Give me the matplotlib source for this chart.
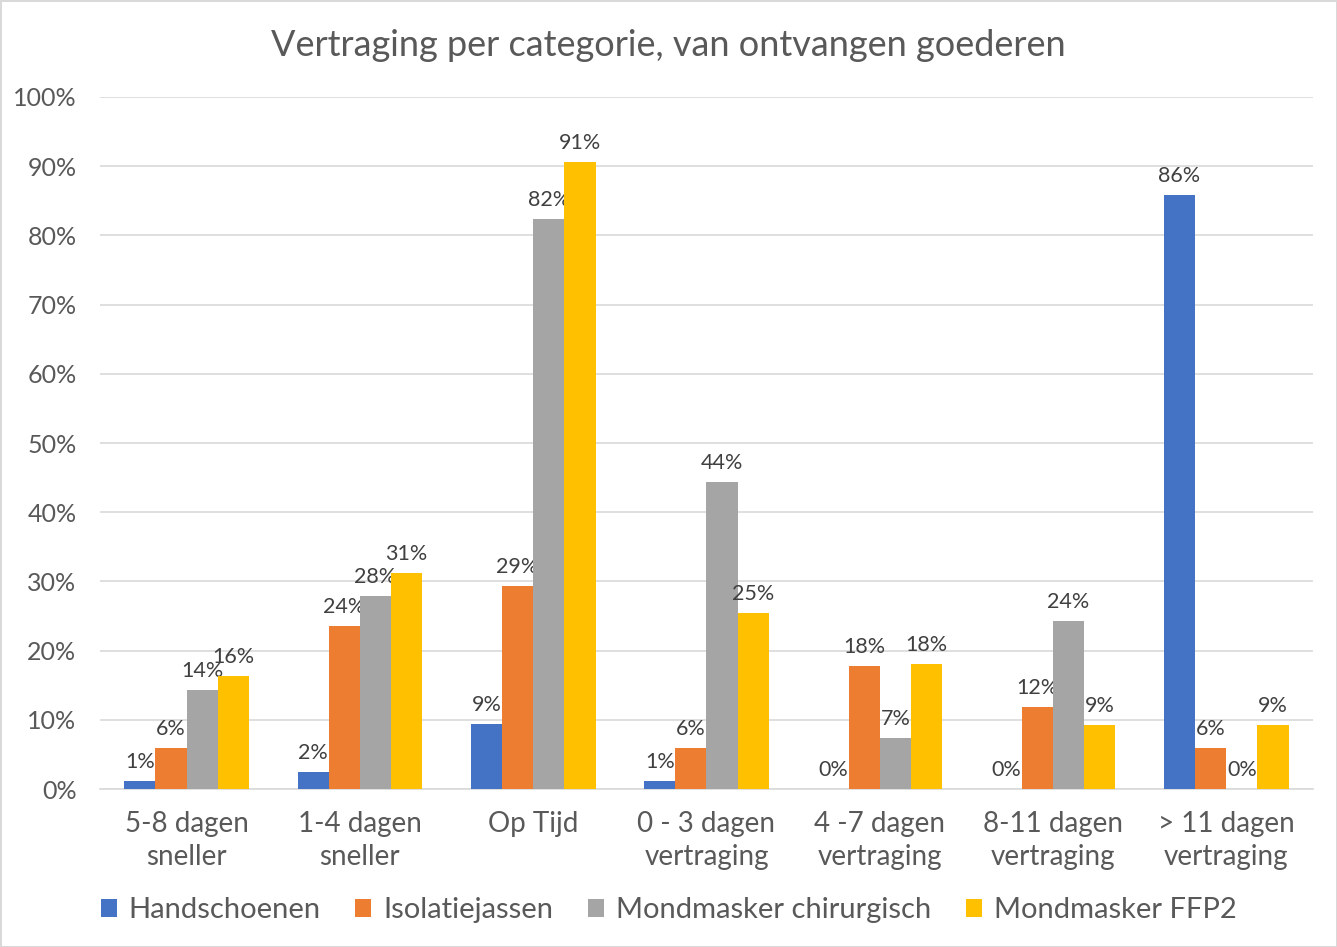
import numpy as np
import matplotlib.pyplot as plt

categories = ['5-8 dagen\nsneller', '1-4 dagen\nsneller', 'Op Tijd', '0 - 3 dagen\nvertraging',
              '4 -7 dagen\nvertraging', '8-11 dagen\nvertraging', '> 11 dagen\nvertraging']
series = ['Handschoenen', 'Isolatiejassen', 'Mondmasker chirurgisch', 'Mondmasker FFP2']
handschoenen = [1.2, 2.4, 9.4, 1.2, 0.0, 0.0, 85.8]
isolatiejassen = [5.9, 23.6, 29.4, 5.9, 17.8, 11.8, 5.9]
chirurgisch = [14.3, 27.9, 82.4, 44.4, 7.4, 24.3, 0.0]
ffp2 = [16.3, 31.2, 90.6, 25.4, 18.1, 9.2, 9.2]
colors = ['#4472C4', '#ED7D31', '#A5A5A5', '#FFC000']

plt.rcParams['font.family'] = ['Lato', 'DejaVu Sans']

fig = plt.figure(figsize=(13.37, 9.47), dpi=100, edgecolor='#d9d9d9', linewidth=2)
ax = fig.add_axes([0.0748, 0.1668, 0.9072, 0.7308])

x = np.arange(len(categories))
width = 0.18
for i, (name, vals) in enumerate(zip(series, [handschoenen, isolatiejassen, chirurgisch, ffp2])):
    pos = x + (i - 1.5) * width
    ax.bar(pos, vals, width, color=colors[i], label=name, zorder=3)
    for px, v in zip(pos, vals):
        ax.text(px, v + 1.3, f"{v:.0f}%", ha='center', va='bottom', fontsize=15.5, color='#404040')

ax.set_xlim(-0.5, len(categories) - 0.5)
ax.set_ylim(0, 100)
ax.set_yticks(np.arange(0, 101, 10))
ax.set_yticklabels([f"{t}%" for t in range(0, 101, 10)], fontsize=18, color='#595959')
ax.set_xticks(x)
ax.set_xticklabels(categories, fontsize=20, color='#595959', linespacing=1.3)
ax.tick_params(length=0)
ax.tick_params(axis='x', pad=16)
ax.tick_params(axis='y', pad=17)
ax.grid(axis='y', color='#d9d9d9', linewidth=1.2, zorder=0)
for s in ['top', 'right', 'left']:
    ax.spines[s].set_visible(False)
ax.spines['bottom'].set_color('#d9d9d9')
ax.spines['bottom'].set_linewidth(1.2)

fig.text(0.5, 0.952, 'Vertraging per categorie, van ontvangen goederen', ha='center', va='center',
         fontsize=26, color='#595959')
fig.legend(loc='center', bbox_to_anchor=(0.5, 0.039), ncol=4, frameon=False, fontsize=21,
           handlelength=0.55, handleheight=0.55, handletextpad=0.4, columnspacing=1.2,
           labelcolor='#595959')

fig.savefig('out.png', dpi=100, edgecolor=fig.get_edgecolor())
